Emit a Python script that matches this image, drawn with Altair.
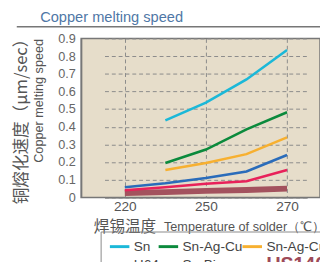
import altair as alt
import pandas as pd

temps = [220, 235, 250, 260, 270]
series_names = ["Sn", "Sn-Ag-Cu", "Sn-Ag-Cu-Ni", "H64", "Sn-Bi", "US140"]
sn = [None, 0.436, 0.537, 0.668, 0.835]
sn_ag_cu = [None, 0.195, 0.271, 0.385, 0.482]
sn_ag_cu_2 = [None, 0.155, 0.195, 0.245, 0.34]
h64 = [0.057, 0.08, 0.11, 0.147, 0.24]
sn_bi = [0.04, 0.058, 0.077, 0.092, 0.155]
us140 = [0.025, 0.03, 0.037, 0.042, 0.05]
colors = ["#1BB8D8", "#0B8A3C", "#F7B030", "#2A6CBA", "#E8215A", "#A3525E"]
y_ticks = [0, 0.1, 0.2, 0.3, 0.4, 0.5, 0.6, 0.7, 0.8, 0.9]
x_ticks = [220, 250, 270]

rows = []
for name, vals in zip(series_names, [sn, sn_ag_cu, sn_ag_cu_2, h64, sn_bi, us140]):
    for t, v in zip(temps, vals):
        if v is not None:
            rows.append({"series": name, "temp": t, "speed": v})
df = pd.DataFrame(rows)

FONT = "Liberation Sans"
CJK = "Noto Sans CJK SC"

x_enc = alt.X("temp:O", scale=alt.Scale(domain=temps, range=[24, 232]),
              axis=alt.Axis(values=x_ticks, title=None, labelAngle=0, ticks=False,
                            domain=True, domainColor="#777", domainWidth=1.5,
                            labelFont=FONT, labelFontSize=14, labelColor="#555",
                            labelPadding=2, grid=True, gridDash=[4, 3],
                            gridColor="#8a8a8a", gridWidth=1))
y_enc = alt.Y("speed:Q", scale=alt.Scale(domain=[0, 0.9], nice=False),
              axis=alt.Axis(values=y_ticks, title=None, ticks=False, domainColor="#777",
                            domainWidth=1.5, labelFont=FONT, labelFontSize=13,
                            labelColor="#666", labelPadding=6,
                            labelExpr="datum.value == 0 ? '0' : format(datum.value, '.1f')",
                            grid=True, gridDash=[4, 3], gridColor="#8a8a8a", gridWidth=1))
c_enc = alt.Color("series:N", scale=alt.Scale(domain=series_names, range=colors),
                  legend=alt.Legend(orient="none", legendX=20, legendY=198, columns=3,
                                    direction="horizontal",
                                    gridAlign="none", title=None, symbolType="stroke",
                                    symbolSize=400, symbolStrokeWidth=3,
                                    labelFont=FONT, labelOffset=3, columnPadding=-7,
                                    rowPadding=0, padding=4, symbolOffset=4,
                                    strokeColor="#888",
                                    labelFontSize=alt.ExprRef("datum.value == 'US140' ? 20 : 14"),
                                    labelColor=alt.ExprRef("datum.value == 'US140' ? '#9E4A58' : '#444'"),
                                    labelFontWeight=alt.ExprRef("datum.value == 'US140' ? 'bold' : 'normal'")))

base = alt.Chart(df)
thick = base.mark_line(strokeWidth=6).encode(x=x_enc, y=y_enc, color=c_enc).transform_filter(
    alt.datum.series == "US140")
thin = base.mark_line(strokeWidth=2.6).encode(x=x_enc, y=y_enc, color=c_enc).transform_filter(
    alt.datum.series != "US140")

def label(text, x, y, size, color, font=FONT, angle=0, align="center", baseline="middle"):
    return alt.Chart(pd.DataFrame({"t": [text]})).mark_text(
        font=font, fontSize=size, color=color, angle=angle, align=align, baseline=baseline
    ).encode(text="t:N", x=alt.value(x), y=alt.value(y))

texts = [
    label("铜熔化速度（μm/sec）", -61, 81, 17, "#555", font=CJK, angle=270),
    label("Copper melting speed", -43, 64, 13, "#555", angle=270),
    label("焊锡温度", 13, 198, 16, "#555", font=CJK, align="left", baseline="alphabetic"),
    label("Temperature of solder（℃）", 85, 197, 13, "#555", align="left", baseline="alphabetic"),
    label("Copper melting speed", -42, -17, 15, "#4F77A6", align="left", baseline="alphabetic"),
]

hr = alt.Chart(pd.DataFrame({"a": [0]})).mark_rule(color="#777", strokeWidth=1.5).encode(
    x=alt.value(-66), x2=alt.value(260), y=alt.value(-12))

chart = alt.layer(thick, thin, hr, *texts).properties(
    width=245, height=163,
    autosize=alt.AutoSizeParams(type="none"),
    padding={"left": 75, "top": 28, "right": 0, "bottom": 63},
).configure_view(fill="#E6DDCA", stroke="#777", strokeWidth=1.5)

chart.save("out.html", embed_options={"renderer": "svg", "actions": False})
